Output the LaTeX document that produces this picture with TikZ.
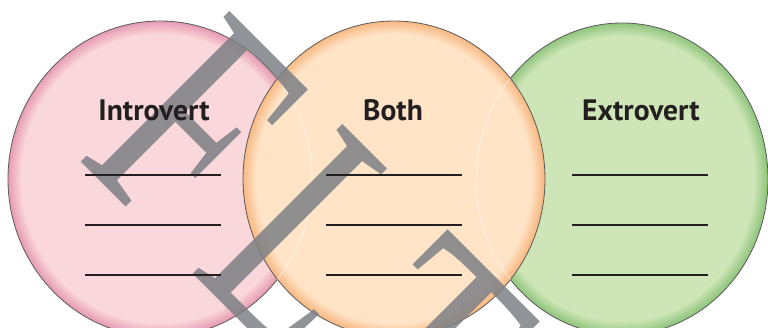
\documentclass[tikz,border=0pt]{standalone}
\usepackage{fontspec}
\newfontfamily\headfont{PT Sans}
\newfontfamily\stampfont[LetterSpace=15]{Liberation Serif}
\usetikzlibrary{positioning}

\definecolor{ink}{RGB}{35,31,32}
\definecolor{edge}{RGB}{95,95,95}
\definecolor{stampgray}{RGB}{125,128,133}
\definecolor{pinkin}{RGB}{250,215,218}
\definecolor{pinkrim}{RGB}{231,158,179}
\definecolor{orangein}{RGB}{255,228,200}
\definecolor{orangerim}{RGB}{248,186,132}
\definecolor{greenin}{RGB}{206,230,183}
\definecolor{greenrim}{RGB}{146,198,127}

\begin{document}
\begin{tikzpicture}[x=0.025cm,y=-0.025cm,every node/.style={inner sep=0pt},
	set/.style={draw=edge,line width=0.6pt},
	seam/.style={draw=white,draw opacity=0.55,line width=0.6pt},
	heading/.style={font=\headfont\bfseries\fontsize{21}{21}\selectfont,text=ink,anchor=base},
	blank/.style={draw=ink,line width=1.4pt},
	stamp/.style={font=\stampfont\fontsize{230}{230}\selectfont,text=stampgray,text opacity=0.85,anchor=base west,rotate=-45,xscale=0.7}]
	
	\clip (0,0) rectangle (768,328);
	
	\coordinate (pinkc) at (160,179);
	\coordinate (orangec) at (394,179);
	\coordinate (greenc) at (622,179);
	
	% three sets, each with a darker rim
	\foreach \c/\rx/\ry in {green/146/156,pink/152/158,orange/151/158}{
		\foreach \k [evaluate=\k as \mix using int(\k*12.5),
			evaluate=\k as \a using \rx-1.6*\k,
			evaluate=\k as \b using \ry-1.6*\k] in {0,...,8}
			\fill[\c in!\mix!\c rim] (\c c) ellipse [x radius=\a,y radius=\b];
		\draw[set] (\c c) ellipse [x radius=\rx,y radius=\ry];
	}
	\begin{scope}
		\clip (orangec) ellipse [x radius=151,y radius=158];
		\draw[seam] (pinkc) ellipse [x radius=152,y radius=158];
		\draw[seam] (greenc) ellipse [x radius=146,y radius=156];
	\end{scope}
	
	\node[stamp] (wm) at (75,156) {FLT};
	
	\node[heading] (intro) at (154,120) {Introvert};
	\node[heading] (both) at (393,120) {Both};
	\node[heading] (extro) at (641,120) {Extrovert};
	
	\foreach \col/\cx in {intro/153,both/394,extro/640}
	\foreach \row/\ly in {1/175,2/225,3/275}{
		\coordinate (\col-\row-l) at (\cx-68,\ly);
		\coordinate (\col-\row-r) at (\cx+68,\ly);
		\draw[blank] (\col-\row-l) -- (\col-\row-r);
	}
	
\end{tikzpicture}
\end{document}
